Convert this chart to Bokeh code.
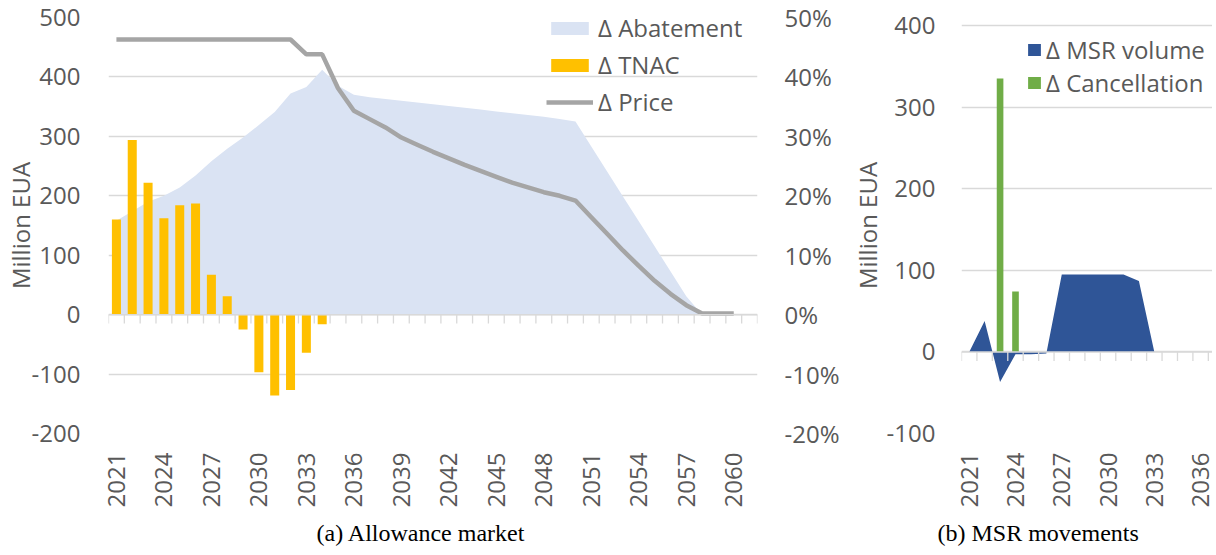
import math
from bokeh.plotting import figure
from bokeh.models import (Range1d, LinearAxis, FixedTicker, CustomJSTickFormatter,
                          Span, Legend, LegendItem, Title)
from bokeh.layouts import row
from bokeh.embed import file_html
from bokeh.resources import INLINE

# ---------------- data: (a) Allowance market ----------------
years_a = list(range(2021, 2062))
abatement_years = list(range(2021, 2059))
abatement = [158, 174, 190, 200, 214, 234, 258, 279, 298, 319, 341, 372, 383, 412,
             385, 370, 366, 363, 360, 357, 354, 351, 348, 345, 342, 339, 336, 333,
             329, 325, 283, 241, 199, 157, 115, 73, 31, 0]
tnac_years = list(range(2021, 2035))
tnac = [160, 294, 222, 162, 184, 187, 67, 31, -25, -97, -136, -127, -64, -16]
price_years = list(range(2021, 2061))
price = [0.463] * 12 + [0.438, 0.438, 0.381, 0.343, 0.329, 0.315, 0.298, 0.286,
                        0.274, 0.263, 0.252, 0.242, 0.232, 0.222, 0.214, 0.206,
                        0.200, 0.192, 0.164, 0.136, 0.108, 0.082, 0.057, 0.035,
                        0.016, 0.002, 0.002, 0.002]
ticks_a = list(range(2021, 2061, 3))
yticks_a = [-200, -100, 0, 100, 200, 300, 400, 500]
pct_ticks = [-0.2, -0.1, 0.0, 0.1, 0.2, 0.3, 0.4, 0.5]

# ---------------- data: (b) MSR movements ----------------
years_b = list(range(2021, 2037))
msr = [0, 38, -37, -3, -3, -2, 95, 95, 95, 95, 95, 87, 0, 0, 0, 0]
cancel_years = [2023, 2024]
cancel = [335, 74]
ticks_b = list(range(2021, 2037, 3))
yticks_b = [-100, 0, 100, 200, 300, 400]

FONT = "Open Sans"
GRAY = "#595959"
GRID = "#D9D9D9"
FS = "24px"
SERIF = "Liberation Serif"
CAP_FS = "24px"

int_fmt = CustomJSTickFormatter(code="return tick.toFixed(0);")
pct_fmt = CustomJSTickFormatter(code="return (tick * 100).toFixed(0) + '%';")


def style_axis(ax, standoff):
    ax.axis_line_color = None
    ax.major_tick_line_color = None
    ax.minor_tick_line_color = None
    ax.major_tick_out = 0
    ax.major_tick_in = 0
    ax.minor_tick_out = 0
    ax.minor_tick_in = 0
    ax.major_label_text_font = FONT
    ax.major_label_text_font_size = FS
    ax.major_label_text_color = GRAY
    ax.major_label_standoff = standoff


# ============ left figure ============
p1 = figure(frame_width=649, frame_height=416,
            x_range=Range1d(2020.5, 2061.5), y_range=Range1d(-200, 500),
            output_backend="svg", toolbar_location=None,
            min_border_left=0, min_border_top=17, min_border_right=90, min_border_bottom=0)
p1.outline_line_color = None
p1.xgrid.visible = False
p1.ygrid.ticker = FixedTicker(ticks=yticks_a)
p1.ygrid.grid_line_color = GRID
p1.ygrid.grid_line_width = 1.3

p1.yaxis.ticker = FixedTicker(ticks=yticks_a)
p1.yaxis.formatter = int_fmt
style_axis(p1.yaxis[0], 28)
p1.yaxis.axis_label = "Million EUA"
p1.yaxis.axis_label_text_font = FONT
p1.yaxis.axis_label_text_font_size = FS
p1.yaxis.axis_label_text_font_style = "normal"
p1.yaxis.axis_label_text_color = GRAY
p1.yaxis.axis_label_standoff = -8

p1.xaxis.ticker = FixedTicker(ticks=ticks_a)
p1.xaxis.formatter = int_fmt
style_axis(p1.xaxis[0], 19)
p1.xaxis.major_label_orientation = math.pi / 2

p1.extra_y_ranges = {"pct": Range1d(-0.2, 0.5)}
ax_pct = LinearAxis(y_range_name="pct", ticker=FixedTicker(ticks=pct_ticks),
                    formatter=pct_fmt)
style_axis(ax_pct, 27)
p1.add_layout(ax_pct, "right")

r_ab = p1.varea(x=abatement_years, y1=0, y2=abatement, fill_color="#DAE3F3")
p1.add_layout(Span(location=0, dimension="width", line_color=GRID, line_width=1.5))
bounds_a = [y - 0.5 for y in years_a] + [years_a[-1] + 0.5]
p1.segment(x0=bounds_a, y0=0, x1=bounds_a, y1=-15, line_color=GRID, line_width=1.3)
r_tn = p1.vbar(x=tnac_years, top=tnac, bottom=0, width=0.57, fill_color="#FFC000", line_color=None)
r_pr = p1.line(x=price_years, y=price, y_range_name="pct", line_color="#A5A5A5", line_width=4.5)

leg1 = Legend(items=[LegendItem(label="Δ Abatement", renderers=[r_ab]),
                     LegendItem(label="Δ TNAC", renderers=[r_tn]),
                     LegendItem(label="Δ Price", renderers=[r_pr])],
              location=(438, 315), glyph_width=47, glyph_height=16, label_standoff=5,
              spacing=4, padding=0, margin=0, border_line_color=None,
              background_fill_alpha=0, label_text_font=FONT, label_text_font_size=FS,
              label_text_color=GRAY)
p1.add_layout(leg1)

cap1 = Title(text="(a) Allowance market", align="left", offset=208, standoff=14,
             text_font=SERIF, text_font_size=CAP_FS,
             text_font_style="normal", text_color="black")
p1.add_layout(cap1, "below")

# ============ right figure ============
p2 = figure(frame_width=251, frame_height=416,
            x_range=Range1d(2020.5, 2036.77), y_range=Range1d(-100, 409.8),
            output_backend="svg", toolbar_location=None,
            min_border_left=0, min_border_top=17, min_border_right=0, min_border_bottom=0)
p2.outline_line_color = None
p2.xgrid.visible = False
p2.ygrid.ticker = FixedTicker(ticks=yticks_b)
p2.ygrid.grid_line_color = GRID
p2.ygrid.grid_line_width = 1.3

p2.yaxis.ticker = FixedTicker(ticks=yticks_b)
p2.yaxis.formatter = int_fmt
style_axis(p2.yaxis[0], 26)
p2.yaxis.axis_label = "Million EUA"
p2.yaxis.axis_label_text_font = FONT
p2.yaxis.axis_label_text_font_size = FS
p2.yaxis.axis_label_text_font_style = "normal"
p2.yaxis.axis_label_text_color = GRAY
p2.yaxis.axis_label_standoff = 0

p2.xaxis.ticker = FixedTicker(ticks=ticks_b)
p2.xaxis.formatter = int_fmt
style_axis(p2.xaxis[0], 19)
p2.xaxis.major_label_orientation = math.pi / 2

r_msr = p2.varea(x=years_b, y1=0, y2=msr, fill_color="#2F5597")
p2.add_layout(Span(location=0, dimension="width", line_color=GRID, line_width=1.5))
bounds_b = [y - 0.5 for y in years_b] + [years_b[-1] + 0.5]
p2.segment(x0=bounds_b, y0=0, x1=bounds_b, y1=-11, line_color=GRID, line_width=1.3)
r_can = p2.vbar(x=cancel_years, top=cancel, bottom=0, width=0.43, fill_color="#70AD47", line_color=None)

leg2 = Legend(items=[LegendItem(label="Δ MSR volume", renderers=[r_msr]),
                     LegendItem(label="Δ Cancellation", renderers=[r_can])],
              location=(65, 334), glyph_width=16, glyph_height=15, label_standoff=4,
              spacing=0, padding=0, margin=0, border_line_color=None,
              background_fill_alpha=0, label_text_font=FONT, label_text_font_size=FS,
              label_text_color=GRAY)
p2.add_layout(leg2)

cap2 = Title(text="(b) MSR movements", align="left", offset=-24, standoff=14,
             text_font=SERIF, text_font_size=CAP_FS,
             text_font_style="normal", text_color="black")
p2.add_layout(cap2, "below")

layout = row(p1, p2, spacing=0)
open("out.html", "w").write(file_html(layout, INLINE))
